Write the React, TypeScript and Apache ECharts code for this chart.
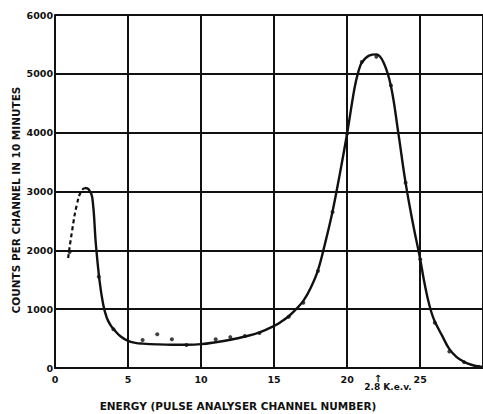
import React, { useEffect, useRef } from "react";
import * as echarts from "echarts";

const xTickLabels = ["0", "5", "10", "15", "20", "25"];
const yTickLabels = ["0", "1000", "2000", "3000", "4000", "5000", "6000"];

// measured counts per channel
const measuredPoints: [number, number][] = [
  [1, 1970], [3, 1550], [4, 660], [6, 475], [7, 575], [8, 490], [9, 390],
  [11, 490], [12, 525], [13, 545], [14, 595], [16, 870], [17, 1110],
  [18, 1650], [19, 2650], [20, 3980], [21, 5200], [22, 5290], [23, 4800],
  [24, 3150], [25, 1850], [26, 770], [27, 280], [28, 100], [29, 20],
];

// extrapolated (dashed) part of the fitted curve
const dashedCurve: [number, number][] = [
  [0.9, 1870], [1.2, 2380], [1.5, 2780], [1.8, 3010], [2.05, 3060],
];

// fitted (solid) curve
const solidCurve: [number, number][] = [
  [2.05, 3060], [2.3, 3040], [2.55, 2900], [2.8, 2100], [3.05, 1480],
  [3.3, 1080], [3.55, 850], [3.8, 730], [4.05, 650], [4.5, 535], [5, 460],
  [5.5, 428], [6, 415], [7, 402], [8, 396], [9, 396], [10, 405], [11, 438],
  [12, 480], [13, 535], [14, 605], [15, 715], [15.5, 790], [16, 880],
  [16.5, 1000], [17, 1140], [17.5, 1360], [18, 1660], [18.5, 2130],
  [19, 2660], [19.5, 3300], [20, 3990], [20.5, 4750], [20.75, 5020],
  [21, 5190], [21.5, 5310], [22, 5330], [22.5, 5190], [23, 4790],
  [23.5, 4000], [24, 3150], [24.5, 2460], [25, 1850], [25.25, 1500],
  [25.5, 1200], [25.75, 960], [26, 790], [26.5, 550], [27, 320],
  [27.5, 185], [28, 105], [28.5, 55], [29, 25], [29.3, 18],
];

const xTitle = "ENERGY (PULSE ANALYSER CHANNEL NUMBER)";
const yTitle = "COUNTS PER CHANNEL IN 10 MINUTES";
const annotation = "2.8 K.e.v.";

const FONT = "DejaVu Sans";
const INK = "#111";

export default function App() {
  const ref = useRef<HTMLDivElement>(null);
  useEffect(() => {
    if (!ref.current) return;
    const chart = echarts.init(ref.current, null, { renderer: "svg" });
    chart.setOption({
      animation: false,
      backgroundColor: "#fff",
      grid: { left: 55, right: 0, top: 15, bottom: 46 },
      xAxis: {
        type: "value",
        min: 0,
        max: 29.3,
        interval: 5,
        axisLine: { show: true, lineStyle: { color: INK, width: 2 } },
        axisTick: { show: false },
        splitLine: { show: true, lineStyle: { color: INK, width: 2 } },
        axisLabel: {
          margin: 6,
          color: INK,
          fontFamily: FONT,
          fontWeight: "bold",
          fontSize: 9.5,
          showMaxLabel: false,
          formatter: (v: number) => {
            const s = String(v);
            return xTickLabels.includes(s) ? s : "";
          },
        },
      },
      yAxis: {
        type: "value",
        min: 0,
        max: 6000,
        interval: 1000,
        axisLine: { show: true, lineStyle: { color: INK, width: 2 } },
        axisTick: { show: false },
        splitLine: { show: true, lineStyle: { color: INK, width: 2 } },
        axisLabel: {
          margin: 2,
          color: INK,
          fontFamily: FONT,
          fontWeight: "bold",
          fontSize: 9.5,
          formatter: (v: number) => {
            const s = String(v);
            return yTickLabels.includes(s) ? s : "";
          },
        },
      },
      series: [
        {
          type: "line",
          data: dashedCurve,
          smooth: 0.5,
          symbol: "none",
          lineStyle: { color: INK, width: 2.2, type: [4, 3] },
          z: 3,
        },
        {
          type: "line",
          data: solidCurve,
          smooth: 0.4,
          symbol: "none",
          lineStyle: { color: INK, width: 2.4 },
          z: 3,
        },
        {
          type: "scatter",
          data: measuredPoints,
          symbol: "circle",
          symbolSize: 4,
          itemStyle: { color: INK },
          z: 4,
        },
      ],
      graphic: [
        {
          type: "text",
          x: 238,
          y: 406,
          style: {
            text: xTitle,
            fontFamily: FONT,
            fontWeight: "bold",
            fontSize: 10.5,
            fill: INK,
            align: "center",
            verticalAlign: "middle",
          },
        },
        {
          type: "text",
          x: 16,
          y: 200,
          rotation: Math.PI / 2,
          style: {
            text: yTitle,
            fontFamily: FONT,
            fontWeight: "bold",
            fontSize: 10.5,
            fill: INK,
            align: "center",
            verticalAlign: "middle",
          },
        },
        {
          type: "text",
          x: 378,
          y: 378,
          style: {
            text: "↑",
            fontFamily: FONT,
            fontWeight: "bold",
            fontSize: 10,
            fill: INK,
            align: "center",
            verticalAlign: "middle",
          },
        },
        {
          type: "text",
          x: 388,
          y: 387,
          style: {
            text: annotation,
            fontFamily: FONT,
            fontWeight: "bold",
            fontSize: 9,
            fill: INK,
            align: "center",
            verticalAlign: "middle",
          },
        },
      ],
    });
    return () => chart.dispose();
  }, []);
  return (
    <div
      ref={ref}
      style={{ position: "fixed", left: 0, top: 0, width: 483, height: 414 }}
    />
  );
}
